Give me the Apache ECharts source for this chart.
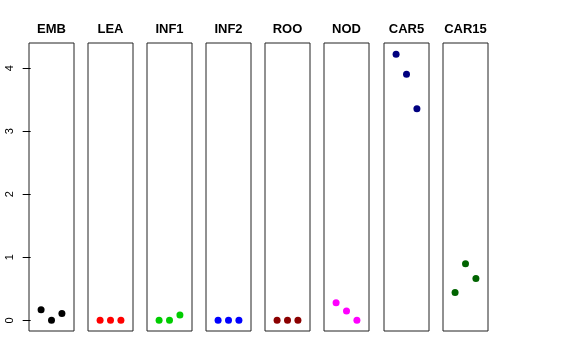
<!DOCTYPE html>
<html><head><meta charset="utf-8">
<script src="https://cdn.jsdelivr.net/npm/echarts@6/dist/echarts.min.js"></script>
<style>html,body{margin:0;padding:0;background:#fff}#c{width:576px;height:360px}</style>
</head><body><div id="c"></div>
<script>
const categories = ['EMB','LEA','INF1','INF2','ROO','NOD','CAR5','CAR15'];
const colors = ['#000000','#FF0000','#00CD00','#0000FF','#8B0000','#FF00FF','#000080','#006400'];
const xPositions = [1, 2, 3];
const EMB = [0.168, 0.0, 0.11];
const LEA = [0.0, 0.0, 0.0];
const INF1 = [0.0, 0.0, 0.084];
const INF2 = [0.0, 0.0, 0.0];
const ROO = [0.0, 0.0, 0.0];
const NOD = [0.28, 0.147, 0.0];
const CAR5 = [4.22, 3.905, 3.357];
const CAR15 = [0.443, 0.896, 0.665];
const yTicks = [0, 1, 2, 3, 4];
const seriesValues = [EMB, LEA, INF1, INF2, ROO, NOD, CAR5, CAR15];

const lefts = [29, 88, 147, 206, 265, 324, 384, 443];
const W = 45, TOP = 43, H = 288;
const grids = [], xAxes = [], yAxes = [], series = [], titles = [];
categories.forEach((name, i) => {
  grids.push({left: lefts[i], top: TOP, width: W, height: H, show: true, borderColor: '#222', borderWidth: 1, backgroundColor: 'transparent'});
  xAxes.push({type: 'value', gridIndex: i, min: -0.16, max: 4.16, show: false});
  yAxes.push({type: 'value', gridIndex: i, min: -0.169, max: 4.40, show: i === 0,
    splitLine: {show: false},
    axisLine: {show: false},
    axisTick: {show: true, length: 8, customValues: yTicks, lineStyle: {color: '#000'}},
    axisLabel: {show: true, customValues: yTicks, rotate: 90, margin: 14, fontSize: 11, color: '#000', fontFamily: 'Liberation Sans, Arial, sans-serif'}
  });
  series.push({type: 'scatter', xAxisIndex: i, yAxisIndex: i, symbol: 'circle', symbolSize: 7,
    itemStyle: {color: colors[i], opacity: 1}, silent: true,
    data: seriesValues[i].map((v, j) => [xPositions[j], v])});
  titles.push({text: name, left: lefts[i] + W / 2, top: 23, textAlign: 'center',
    textStyle: {fontSize: 13, fontWeight: 'bold', color: '#000', fontFamily: 'Liberation Sans, Arial, sans-serif'}, padding: 0});
});
const chart = echarts.init(document.getElementById('c'), null, {renderer: 'canvas'});
chart.setOption({animation: false, backgroundColor: '#fff', title: titles, grid: grids, xAxis: xAxes, yAxis: yAxes, series: series});
</script></body></html>
